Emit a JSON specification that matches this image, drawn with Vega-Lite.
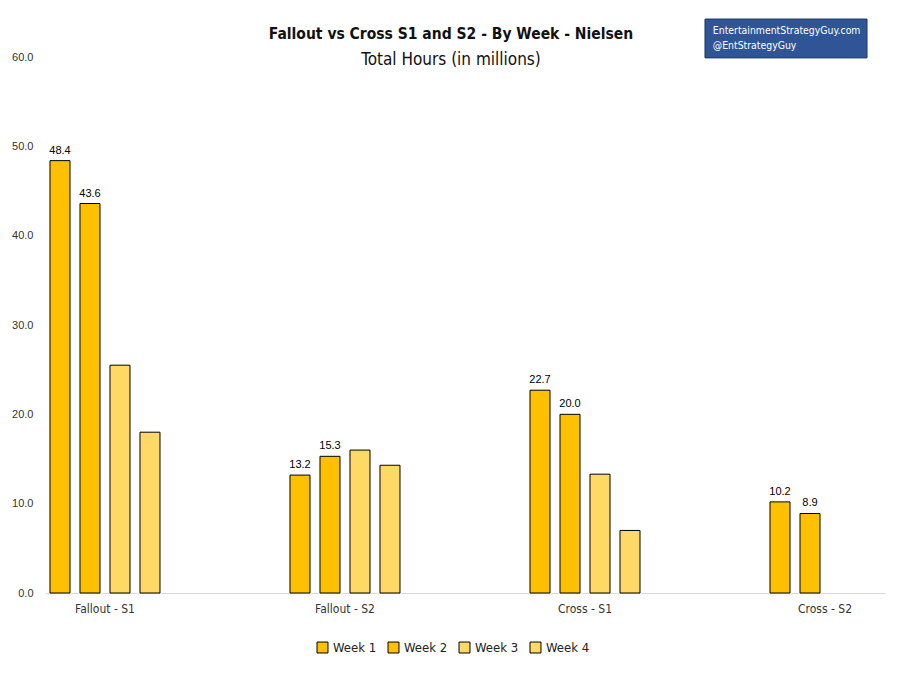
{
  "$schema": "https://vega.github.io/schema/vega-lite/v6.json",
  "width": 840,
  "height": 536,
  "autosize": {"type": "none"},
  "padding": {"left": 45, "top": 57, "right": 17, "bottom": 81},
  "background": "white",
  "config": {
    "view": {"stroke": null},
    "axisX": {
      "domainColor": "#d9d9d9",
      "ticks": false,
      "grid": false,
      "labelAngle": 0,
      "labelFont": "DejaVu Sans Condensed, sans-serif",
      "labelFontSize": 12,
      "labelColor": "#333333",
      "labelPadding": 10,
      "title": null
    },
    "axisY": {
      "domain": false,
      "ticks": false,
      "grid": false,
      "labelFont": "Liberation Sans, Arial, sans-serif",
      "labelFontSize": 11,
      "labelColor": "#333333",
      "labelPadding": 12,
      "title": null
    }
  },
  "title": {
    "text": "Fallout vs Cross S1 and S2 - By Week - Nielsen",
    "subtitle": "Total Hours (in millions)",
    "font": "DejaVu Sans Condensed, sans-serif",
    "fontSize": 15.5,
    "fontWeight": "bold",
    "color": "#111111",
    "subtitleFont": "DejaVu Sans Condensed, sans-serif",
    "subtitleFontSize": 17,
    "subtitleColor": "#111111",
    "subtitlePadding": 9,
    "anchor": "middle",
    "dx": -14,
    "offset": -49
  },
  "datasets": {
    "hours": [
      {"show": "Fallout - S1", "week": "Week 1", "hours": 48.4},
      {"show": "Fallout - S1", "week": "Week 2", "hours": 43.6},
      {"show": "Fallout - S1", "week": "Week 3", "hours": 25.5},
      {"show": "Fallout - S1", "week": "Week 4", "hours": 18.0},
      {"show": "Fallout - S2", "week": "Week 1", "hours": 13.2},
      {"show": "Fallout - S2", "week": "Week 2", "hours": 15.3},
      {"show": "Fallout - S2", "week": "Week 3", "hours": 16.0},
      {"show": "Fallout - S2", "week": "Week 4", "hours": 14.3},
      {"show": "Cross - S1", "week": "Week 1", "hours": 22.7},
      {"show": "Cross - S1", "week": "Week 2", "hours": 20.0},
      {"show": "Cross - S1", "week": "Week 3", "hours": 13.3},
      {"show": "Cross - S1", "week": "Week 4", "hours": 7.0},
      {"show": "Cross - S2", "week": "Week 1", "hours": 10.2},
      {"show": "Cross - S2", "week": "Week 2", "hours": 8.9}
    ]
  },
  "resolve": {"scale": {"x": "independent"}},
  "layer": [
    {
      "data": {"name": "hours"},
      "encoding": {
        "x": {
          "field": "show",
          "type": "nominal",
          "sort": ["Fallout - S1", "Fallout - S2", "Cross - S1", "Cross - S2"],
          "scale": {"paddingInner": 0.5417, "paddingOuter": 0.0208}
        },
        "xOffset": {
          "field": "week",
          "type": "nominal",
          "scale": {
            "domain": ["Week 1", "Week 2", "Week 3", "Week 4"],
            "paddingInner": 0.3333,
            "paddingOuter": 0
          }
        },
        "y": {
          "field": "hours",
          "type": "quantitative",
          "scale": {"domain": [0, 60], "nice": false},
          "axis": {"values": [0, 10, 20, 30, 40, 50, 60], "format": ".1f"}
        }
      },
      "layer": [
        {
          "mark": {"type": "bar", "stroke": "black", "strokeWidth": 1},
          "encoding": {
            "fill": {
              "field": "week",
              "type": "nominal",
              "scale": {
                "domain": ["Week 1", "Week 2", "Week 3", "Week 4"],
                "range": ["#FFC000", "#FFC000", "#FFD966", "#FFD966"]
              },
              "legend": {
                "orient": "none",
                "legendX": 271,
                "legendY": 584,
                "direction": "horizontal",
                "title": null,
                "symbolType": "square",
                "symbolSize": 120,
                "symbolStrokeColor": "black",
                "symbolStrokeWidth": 1,
                "symbolOpacity": 1,
                "labelFont": "DejaVu Sans Condensed, sans-serif",
                "labelFontSize": 13,
                "labelColor": "#222222",
                "labelOffset": 4,
                "columnPadding": 9
              }
            }
          }
        },
        {
          "transform": [{"filter": {"field": "week", "oneOf": ["Week 1", "Week 2"]}}],
          "mark": {
            "type": "text",
            "baseline": "bottom",
            "dy": -5,
            "font": "Liberation Sans, Arial, sans-serif",
            "fontSize": 11,
            "color": "black"
          },
          "encoding": {
            "text": {"field": "hours", "type": "quantitative", "format": ".1f"}
          }
        }
      ]
    },
    {
      "data": {"values": [{}]},
      "mark": {"type": "rect", "color": "#2F5597", "stroke": "#1F3864", "strokeWidth": 1},
      "encoding": {
        "x": {"datum": 0.7857, "type": "quantitative", "scale": {"domain": [0, 1], "nice": false}, "axis": null},
        "x2": {"datum": 0.9786},
        "y": {"datum": 59.9, "type": "quantitative"},
        "y2": {"datum": 64.25}
      }
    },
    {
      "data": {"values": [{}]},
      "mark": {
        "type": "text",
        "align": "left",
        "baseline": "middle",
        "lineBreak": "\n",
        "lineHeight": 15,
        "color": "white",
        "font": "DejaVu Sans Condensed, sans-serif",
        "fontSize": 10.4
      },
      "encoding": {
        "x": {"datum": 0.795, "type": "quantitative", "scale": {"domain": [0, 1], "nice": false}, "axis": null},
        "y": {"datum": 62.9, "type": "quantitative"},
        "text": {"value": "EntertainmentStrategyGuy.com\n@EntStrategyGuy"}
      }
    }
  ]
}
